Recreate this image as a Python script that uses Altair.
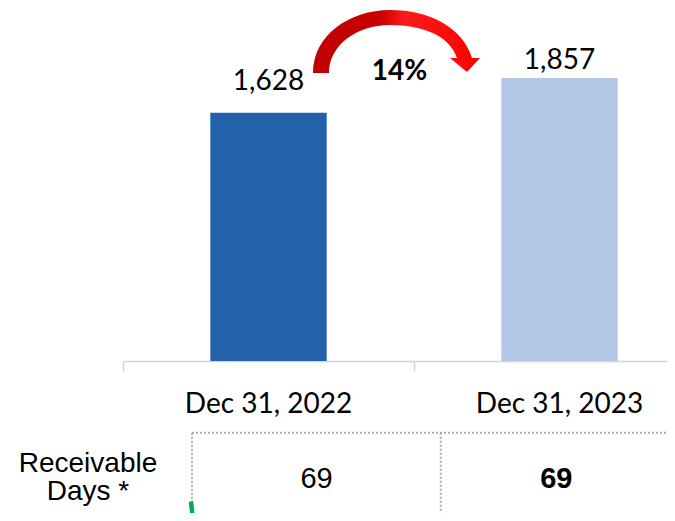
import altair as alt
import pandas as pd

# ---- data ----
categories = ["Dec 31, 2022", "Dec 31, 2023"]
values = [1628, 1857]
value_labels = ["1,628", "1,857"]
days = [69, 69]
change_label = "14%"
row_label = ["Receivable", "Days *"]
bar_colors = ["#2461AB", "#B4C7E7"]

df = pd.DataFrame({"cat": categories, "value": values, "label": value_labels, "days": days})
one = pd.DataFrame({"k": [0]})

# page -> view coordinate helpers (page margin 8, left padding 115)
def PX(x):
    return x - 123

def PY(y):
    return y - 8

xscale = alt.Scale(domain=categories, range=[0, 582], paddingInner=0, paddingOuter=0)
yscale = alt.Scale(domain=[0, 2316])
xaxis = alt.Axis(labels=False, title=None, tickBand="extent", domainColor="#D4D4D4",
                 tickColor="#D4D4D4", tickSize=10, domainWidth=1.5, tickWidth=1.5, grid=False)
X = alt.X("cat:N", sort=categories, scale=xscale, axis=xaxis)
Y = alt.Y("value:Q", scale=yscale, axis=None)

base = alt.Chart(df)

bars = base.mark_bar(width=alt.RelativeBandSize(0.4)).encode(
    x=X, y=Y,
    color=alt.Color("cat:N", scale=alt.Scale(domain=categories, range=bar_colors), legend=None),
)

lab1 = base.transform_filter(alt.datum.cat == categories[0]).mark_text(
    dy=-22.5, baseline="alphabetic", font="Lato", fontSize=28, color="#000000"
).encode(x=X, y=Y, text="label:N")
lab2 = base.transform_filter(alt.datum.cat == categories[1]).mark_text(
    dy=-9, baseline="alphabetic", font="Lato", fontSize=28, color="#000000"
).encode(x=X, y=Y, text="label:N")

catlab = base.mark_text(baseline="alphabetic", font="Lato", fontSize=28, color="#000000").encode(
    x=X, y=alt.value(PY(412.7)), text="cat:N"
)

# curved arrow as custom symbol path (page pixel outline, normalised around its centre)
cx, cy, s = 396.5, 41.5, 84.0
outline = [
    ("M", [(313, 73)]),
    ("C", [(313, 35), (350, 10), (390, 10)]),
    ("C", [(430, 10), (463, 28), (472, 58)]),
    ("L", [(480, 58)]),
    ("L", [(467, 72)]),
    ("L", [(450, 58)]),
    ("L", [(457, 58)]),
    ("C", [(450, 37), (425, 25), (390, 25)]),
    ("C", [(357, 25), (329, 45), (329, 73)]),
]
parts = []
for cmd, pts in outline:
    parts.append(cmd + " " + " ".join(f"{(px - cx) / s:.4f},{(py - cy) / s:.4f}" for px, py in pts))
path = " ".join(parts) + " Z"

grad = alt.LinearGradient(
    gradient="linear", x1=0, x2=1, y1=0, y2=0,
    stops=[alt.GradientStop(color="#C00000", offset=0),
           alt.GradientStop(color="#C80000", offset=0.4),
           alt.GradientStop(color="#FF1A1A", offset=0.55),
           alt.GradientStop(color="#FF0000", offset=1)],
)
arrow = alt.Chart(one).mark_point(shape=path, filled=True, fill=grad, opacity=1, strokeWidth=0).encode(
    x=alt.value(PX(cx)), y=alt.value(PY(cy)), size=alt.value((2 * s) ** 2)
)

pct = alt.Chart(one).mark_text(baseline="alphabetic", font="Lato", fontSize=28, fontWeight="bold",
                               color="#000000", text=change_label).encode(
    x=alt.value(PX(399.5)), y=alt.value(PY(80))
)

# table
dot = dict(color="#A9A9A9", strokeWidth=2, strokeDash=[2, 2])
top_line = alt.Chart(one).mark_rule(**dot).encode(
    x=alt.value(PX(192)), x2=alt.value(PX(672.5)), y=alt.value(PY(432.7))
)
vlines = []
for vx in (192, 440.7, 672.3):
    vlines.append(alt.Chart(one).mark_rule(**dot).encode(
        x=alt.value(PX(vx)), y=alt.value(PY(432.7)), y2=alt.value(PY(525))
    ))

green = dict(color="#00B050", strokeWidth=4.5)
g1 = alt.Chart(one).mark_rule(**green).encode(
    x=alt.value(PX(191)), x2=alt.value(PX(193.5)), y=alt.value(PY(501.5)), y2=alt.value(PY(525))
)
g2 = alt.Chart(one).mark_rule(**green).encode(
    x=alt.value(PX(672.5)), x2=alt.value(PX(673.5)), y=alt.value(PY(501.5)), y2=alt.value(PY(525))
)

rowlab = alt.Chart(one).mark_text(baseline="alphabetic", font="Liberation Sans", fontSize=28,
                                  lineHeight=28, color="#000000", text=row_label).encode(
    x=alt.value(PX(88)), y=alt.value(PY(471.5))
)

d1 = base.transform_filter(alt.datum.cat == categories[0]).mark_text(
    baseline="alphabetic", font="Liberation Sans", fontSize=29, color="#000000"
).encode(x=alt.value(PX(316.5)), y=alt.value(PY(488.3)), text="days:Q")
d2 = base.transform_filter(alt.datum.cat == categories[1]).mark_text(
    baseline="alphabetic", font="Liberation Sans", fontSize=29, fontWeight="bold", color="#000000"
).encode(x=alt.value(PX(556.3)), y=alt.value(PY(488.3)), text="days:Q")

chart = alt.layer(
    bars, lab1, lab2, catlab, arrow, pct, top_line, *vlines, g1, g2, rowlab, d1, d2
).properties(
    width=544, height=353,
    padding={"left": 115, "top": 0, "right": 0, "bottom": 152},
    autosize=alt.AutoSizeParams(type="none"),
    background="#FFFFFF",
).configure_view(stroke=None)

chart.save("out.html", embed_options={"renderer": "svg", "actions": False})
